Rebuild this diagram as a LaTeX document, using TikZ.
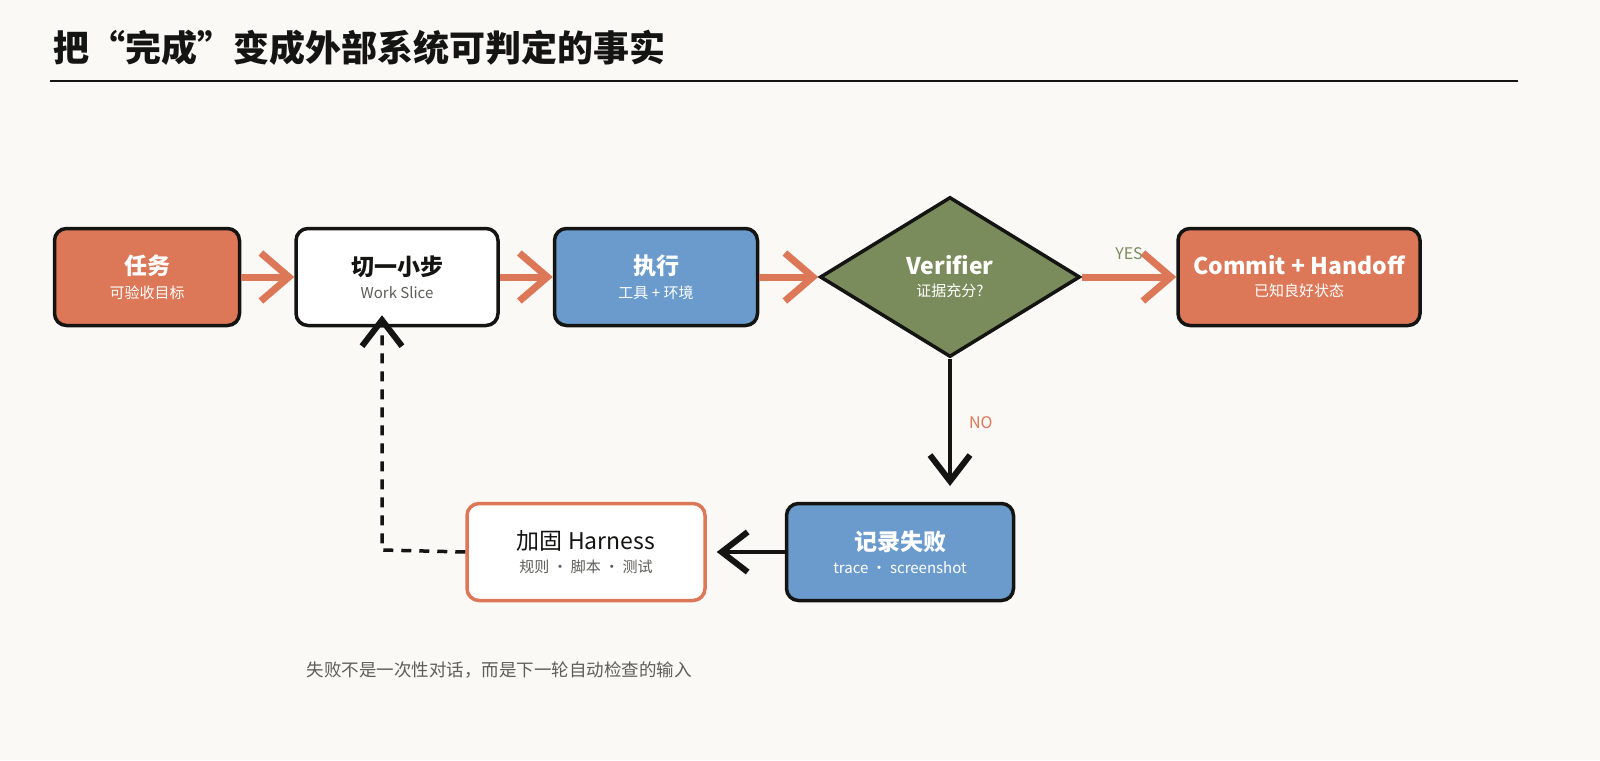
\documentclass[tikz,border=0pt]{standalone}
\usepackage{fontspec}
\setmainfont{Noto Sans CJK SC}
\usetikzlibrary{arrows.meta,shapes.geometric}
\definecolor{bg}{HTML}{FAF9F5}
\definecolor{org}{HTML}{DC7757}
\definecolor{blu}{HTML}{6A9BCC}
\definecolor{grn}{HTML}{7A8B5C}
\definecolor{ink}{HTML}{141413}
\definecolor{gry}{HTML}{5E5D59}
\newcommand{\mt}[1]{{\fontsize{23}{26}\selectfont #1}}
\newcommand{\st}[1]{{\fontsize{15}{18}\selectfont #1}}
\tikzset{
 box/.style={rounded corners=12pt,draw=ink,line width=3.5pt,minimum width=#1,minimum height=97pt,align=center,inner sep=0pt},
 box/.default=190pt,
 oarr/.style={draw=org,line width=7pt,-{Straight Barb[length=28pt,width=48pt,line width=7pt]}},
 karr/.style={draw=ink,line width=3.5pt,-{Straight Barb[length=26pt,width=40pt,line width=6pt]}},
}
\begin{document}
\begin{tikzpicture}[x=1pt,y=-1pt]
\fill[bg] (0,0) rectangle (1600,760);
\node[anchor=west,font=\fontsize{36}{40}\selectfont\bfseries,text=ink] (title) at (50,48) {把“完成”变成外部系统可判定的事实};
\draw[ink,line width=1.5pt] (50,81) -- (1518,81);

\node[box=185pt,fill=org,text=white] (t) at (147,277) {\mt{\bfseries 任务}\\[8pt]\st{可验收目标}};
\node[box=202pt,fill=white,text=ink] (s) at (397,277) {\mt{\bfseries 切一小步}\\[8pt]\st{\color{gry}Work Slice}};
\node[box=203pt,fill=blu,text=white] (e) at (656,277) {\mt{\bfseries 执行}\\[8pt]\st{工具 + 环境}};
\node[diamond,draw=ink,line width=3.5pt,fill=grn,text=white,minimum width=260pt,minimum height=160pt,inner sep=0pt,align=center,aspect=1.625] (v) at (950,277) {\mt{\bfseries Verifier}\\[8pt]\st{证据充分?}};
\node[box=242pt,fill=org,text=white] (c) at (1299,277) {\mt{\bfseries Commit + Handoff}\\[8pt]\st{已知良好状态}};
\node[box=227pt,fill=blu,text=white] (r) at (900,552) {\mt{\bfseries 记录失败}\\[8pt]\st{trace · screenshot}};
\node[box=238pt,fill=white,draw=org,text=ink] (h) at (586,552) {\mt{加固 Harness}\\[8pt]\st{\color{gry}规则 · 脚本 · 测试}};

\draw[oarr] (t.east) -- (s.west);
\draw[oarr] (s.east) -- (e.west);
\draw[oarr] (e.east) -- (v.west);
\draw[oarr] (v.east) -- node[above=10pt,text=grn,font=\fontsize{16}{18}\selectfont] (yes) {YES} (c.west);
\coordinate (nend) at (950,486);
\draw[karr] (v.south) -- node[right=14pt,text=org,font=\fontsize{16}{18}\selectfont] (no) {NO} (nend);
\draw[karr] (r.west) -- ([xshift=10pt]h.east);
\coordinate (d1) at (382,550);
\draw[karr,dash pattern=on 10pt off 8pt] (h.west) -- (d1) -- ([yshift=12pt]s.south -| d1);

\node[anchor=west,text=gry,font=\fontsize{17.5}{20}\selectfont] (foot) at (303,670) {失败不是一次性对话，而是下一轮自动检查的输入};
\pgfresetboundingbox
\useasboundingbox (0,0) rectangle (1600,760);
\end{tikzpicture}
\end{document}
